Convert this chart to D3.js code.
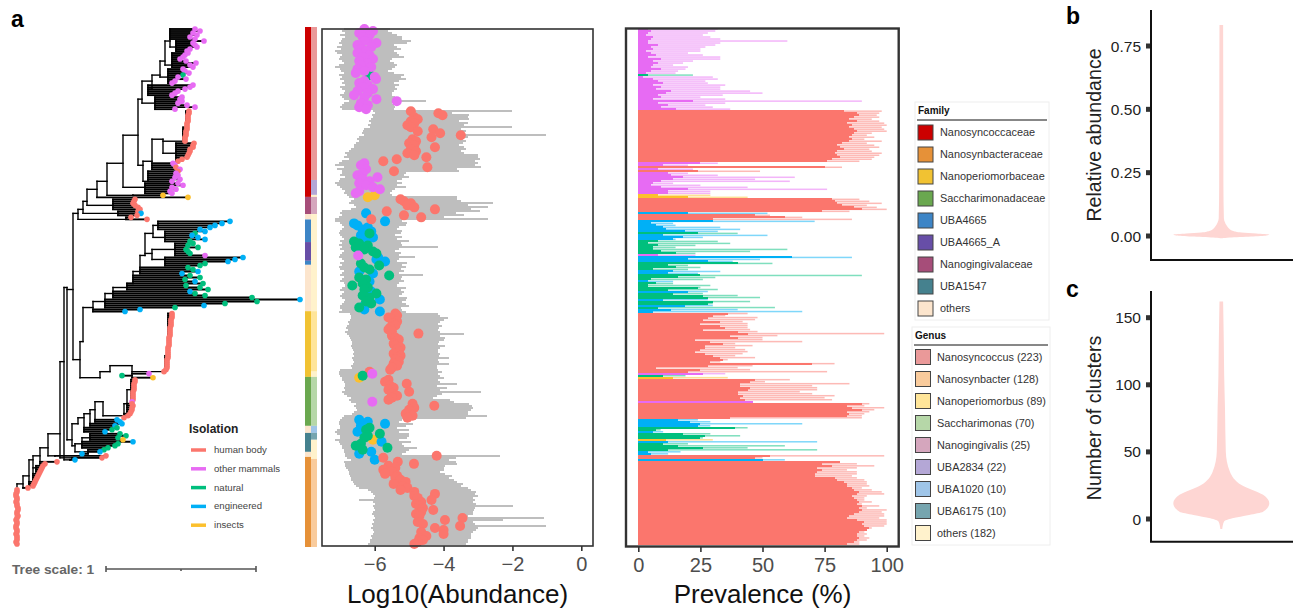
<!DOCTYPE html>
<html>
<head>
<meta charset="utf-8">
<script src="https://cdn.jsdelivr.net/npm/d3@7"></script>
<style>
  html, body { margin: 0; background: #fff; }
  svg { display: block; font-family: "Liberation Sans", Arial, sans-serif; }
</style>
</head>
<body>
<svg id="chart" width="1293" height="613"></svg>
<script>
// Isolation source per genome, as runs from top to bottom
const isolationRuns = [
  ['M',23],['N',1],['M',17],
  ['H',26],
  ['M',2],['H',1],['M',1],['H',1],['M',11],['I',1],
  ['I',1],
  ['H',7],['E',1],['H',3],
  ['E',6],['N',1],['E',3],['N',7],['M',1],['E',3],['N',4],['E',2],['N',1],
  ['N',2],['E',1],['N',4],['E',1],['N',3],['E',1],['N',2],['E',1],['N',1],['E',2],
  ['H',30],
  ['M',1],['N',1],['I',1],
  ['H',11],['M',1],
  ['H',8],
  ['E',4],['N',2],['E',1],['N',3],['I',1],['E',1],['N',4],['E',2],
  ['H',2],['E',1],
  ['H',42]
];
const isolationCodes = ['H','M','N','E','I'];
const isolationNames = ['human body','other mammals','natural','engineered','insects'];
const isolationColors = ['#fb766d','#e76bf3','#00bf7d','#00b0f6','#fcc02d'];

// Log10 abundance per genome: lowest, highest, median
const abundanceLow = [
  -6.9,-6.95,-6.85,-7.0,-6.85,-6.95,-6.98,-7.05,-6.95,-7.1,-6.98,-7.15,-7.1,-6.95,-7.0,-7.05,-6.95,-6.9,-7.05,-7.15,
  -7.0,-6.98,-6.9,-7.05,-6.95,-7.0,-6.9,-6.95,-6.85,-7.0,-6.95,-6.85,-6.9,-7.0,-6.95,-6.9,-6.75,-6.9,-6.95,-7.0,-6.95,
  -6.04,-6.0,-6.08,-6.04,-6.12,-6.18,-6.12,-6.2,-6.15,-6.3,-6.33,-6.37,-6.3,-6.45,-6.5,-6.45,-6.55,-6.6,-6.6,-6.7,-6.75,-6.85,-6.8,-6.9,-6.75,-6.95,
  -7.05,-7.15,-6.9,-7.1,-6.95,-6.95,-7.0,-6.85,-7.0,-7.05,-7.15,-7.1,-7.0,-6.95,-6.85,-6.9,-6.8,
  -6.75,
  -6.6,-6.7,-6.75,-6.6,-6.55,-6.7,-6.95,-7.0,-6.95,-7.05,-7.15,
  -7.15,-7.0,-6.95,-6.9,-6.95,-7.0,-7.05,-7.0,-6.95,-6.9,-7.0,-6.95,-7.05,-6.95,-7.0,-6.9,-6.95,-7.0,-7.05,-6.95,
  -6.9,-7.0,-6.95,-7.05,-7.0,-6.9,-6.95,-7.0,-6.9,-6.95,-7.0,-6.9,-6.85,-6.95,-7.0,-6.9,-6.95,-7.0,-6.95,-6.85,-6.9,-6.95,-7.0,-7.0,-6.95,-7.05,
  -6.72,-6.7,-6.68,-6.72,-6.78,-6.75,-6.8,-6.82,-6.78,-6.85,-6.8,-6.75,-6.72,-6.68,-6.67,-6.65,-6.7,-6.65,-6.62,-6.6,-6.63,-6.6,-6.65,-6.62,-6.6,-6.62,-6.68,-6.65,-7.0,-7.05,
  -7.05,-7.0,-6.95,
  -6.95,-6.9,-6.85,-6.85,-6.9,-6.85,-6.95,-6.9,-6.8,-6.7,-6.75,-6.7,
  -6.55,-6.6,-6.55,-6.5,-6.6,-6.65,-6.9,-6.95,
  -7.0,-7.05,-7.05,-7.0,-7.0,-7.1,-7.15,-7.1,-7.0,-7.0,-7.15,-7.05,-7.0,-6.95,-6.95,-6.9,-6.9,-6.85,
  -6.85,-6.8,-6.7,
  -6.88,-6.85,-6.85,-6.82,-6.78,-6.75,-6.75,-6.72,-6.68,-6.68,-6.62,-6.6,-6.55,-6.45,-6.2,-6.1,-6.05,-6.0,-6.02,-6.47,
  -6.05,-6.0,-6.05,-6.02,-6.0,-6.05,-6.08,-6.02,-6.0,-6.05,-6.02,-6.08,-6.05,-6.1,-6.05,-6.02,-6.05,-6.1,-6.08,-6.15,-6.15,-6.2
];
const abundanceHigh = [
  -5.55,-5.6,-5.5,-5.35,-5.2,-5.2,-4.95,-5.05,-5.45,-5.35,-5.25,-5.45,-5.35,-5.3,-5.15,-5.5,-5.55,-5.45,-5.35,-5.4,
  -5.5,-5.6,-5.45,-5.15,-5.25,-5.1,-5.3,-5.45,-5.3,-5.4,-5.35,-5.45,-5.5,-5.5,-5.4,-5.3,-4.5,-5.5,-5.45,-5.4,-5.45,
  -2.0,-3.75,-3.25,-3.3,-3.25,-3.55,-3.3,-3.4,-2.0,-3.5,-3.35,-3.55,-1.03,-3.3,-3.45,-3.35,-3.45,-3.55,-3.4,-3.35,-3.5,-3.4,-3.0,-3.0,-2.94,-3.1,
  -3.0,-3.1,-2.9,-3.6,-3.55,-5.1,-5.15,-5.0,-5.2,-5.35,-5.2,-5.35,-5.1,-5.4,-5.5,-5.55,-5.5,
  -3.6,
  -3.6,-3.5,-2.55,-3.3,-2.7,-3.2,-2.95,-3.65,-3.4,-4.0,-2.7,
  -5.2,-5.05,-5.1,-5.3,-5.35,-5.2,-5.25,-5.4,-5.2,-5.35,-5.0,-5.25,-5.2,-4.17,-5.3,-5.4,-5.25,-5.3,-4.83,-5.3,
  -5.35,-5.05,-5.2,-5.1,-5.25,-5.15,-5.3,-4.6,-5.2,-5.25,-5.15,-5.3,-5.35,-5.1,-5.25,-5.15,-5.2,-5.3,-5.05,-5.1,-5.2,-5.1,-5.0,-5.25,-5.2,-5.1,
  -4.15,-4.1,-3.88,-4.0,-4.1,-4.15,-4.05,-4.12,-4.15,-4.1,-3.4,-4.1,-3.95,-4.0,-4.12,-4.15,-3.95,-4.1,-4.15,-4.15,-4.1,-4.12,-3.85,-4.15,-4.12,-3.85,-4.2,-4.2,-4.15,-4.05,
  -4.15,-4.1,-4.0,
  -4.15,-4.1,-3.62,-4.2,-3.9,-4.1,-2.9,-4.05,-4.2,-4.3,-3.8,-3.7,
  -3.25,-3.18,-3.15,-3.2,-3.3,-3.3,-2.73,-3.35,
  -5.2,-5.3,-4.88,-5.1,-5.35,-5.0,-5.3,-5.0,-5.0,-5.05,-5.3,-4.95,-5.2,-5.15,-4.78,-5.0,-5.1,-5.2,
  -2.36,-3.65,-3.85,
  -3.65,-3.6,-3.95,-4.0,-3.98,-4.1,-3.95,-3.75,-3.85,-3.7,-3.6,-3.45,-3.5,-3.3,-3.2,-3.05,-3.1,-3.0,-3.15,-3.1,
  -3.15,-3.05,-1.97,-3.1,-3.12,-3.15,-3.15,-3.3,-1.07,-2.27,-3.15,-3.1,-1.03,-3.0,-3.05,-3.15,-3.2,-3.2,-3.2,-3.3,-3.3,-3.35
];
const abundanceMedian = [
  -6.3,-6.05,-6.45,-6.15,-6.35,-6.2,-6.3,-5.95,-6.5,-6.1,-6.4,-6.25,-6.5,-6.15,-6.35,-6.05,-6.45,-6.2,-6.4,-6.1,
  -6.5,-6.3,-6.55,-6.15,-6.0,-5.96,-6.3,-6.45,-6.2,-6.35,-6.05,-6.5,-6.2,-6.6,-6.3,-5.95,-5.36,-6.4,-6.2,-6.45,-6.25,
  -4.95,-4.15,-4.03,-4.85,-4.75,-4.95,-4.85,-5.05,-4.95,-4.3,-4.75,-4.1,-3.5,-4.35,-4.9,-4.8,-5.0,-4.85,-4.25,-4.95,-4.8,-5.05,-4.85,-4.5,-5.36,-5.75,
  -6.3,-6.4,-4.47,-6.25,-5.44,-6.35,-6.5,-5.92,-6.35,-6.15,-6.45,-6.25,-6.05,-5.85,-6.45,-6.55,-6.0,
  -6.2,
  -5.25,-5.15,-4.95,-5.05,-4.85,-4.25,-5.65,-6.25,-5.15,-4.65,-6.1,
  -5.7,-6.6,-6.5,-6.2,-6.35,-6.1,-6.15,-6.4,-6.05,-6.25,-6.6,-6.45,-6.2,-6.55,-6.3,-6.05,-5.95,-6.48,-5.9,-5.95,
  -5.7,-6.4,-5.87,-6.3,-6.15,-6.45,-6.05,-5.58,-6.45,-6.25,-6.15,-6.35,-6.65,-6.2,-6.3,-6.1,-5.95,-6.35,-6.15,-5.85,-6.25,-6.1,-6.3,-6.45,-6.3,-5.85,
  -5.4,-5.35,-5.6,-5.5,-5.35,-5.45,-5.4,-5.55,-5.6,-5.5,-4.73,-5.5,-5.4,-5.3,-5.35,-5.45,-5.4,-5.25,-5.35,-5.3,-5.45,-5.25,-5.35,-5.4,-5.3,-5.45,-5.35,-5.5,-5.55,-6.15,
  -6.07,-6.35,-6.45,
  -5.6,-5.7,-5.07,-5.55,-5.45,-5.6,-5.0,-5.5,-5.35,-5.5,-5.6,-6.07,
  -4.9,-4.27,-4.85,-5.0,-4.95,-5.1,-4.9,-5.05,
  -6.45,-6.2,-5.7,-6.4,-6.15,-6.25,-6.5,-5.85,-6.2,-6.3,-6.05,-5.8,-6.4,-6.55,-5.63,-6.35,-6.1,-6.45,
  -4.2,-5.75,-6.0,
  -5.33,-4.86,-5.6,-5.4,-5.75,-5.5,-5.7,-5.35,-5.4,-5.25,-5.1,-5.45,-5.2,-5.05,-5.25,-4.85,-4.25,-4.85,-4.75,-4.35,
  -4.65,-4.8,-4.7,-4.6,-4.3,-4.65,-4.8,-4.7,-3.45,-3.96,-4.75,-4.6,-3.52,-4.25,-4.0,-4.65,-4.0,-4.5,-4.7,-4.6,-4.75,-4.85
];

// Prevalence (%) per genome: solid part and pale part
const prevalenceInner = [
  4,5,4,3,6,5,4,4,8,5,6,3,5,7,4,9,6,8,6,5,9,5,3,4,2,6,8,10,6,9,7,13,11,8,9,6,22,8,12,9,15,
  83,88,89,87,85,88,84,86,85,87,88,87,86,85,86,85,82,80,81,83,80,79,80,81,78,76,
  25,10,75,8,24,12,13,18,14,9,6,5,9,20,12,12,8,
  20,
  78,79,80,82,87,90,74,20,47,59,30,
  30,5,7,10,11,19,24,10,18,14,8,4,8,6,6,9,15,8,62,20,28,40,12,15,6,14,12,25,16,5,4,7,4,24,12,20,14,26,28,10,30,28,19,8,13,6,
  36,30,28,26,33,25,33,35,26,40,44,37,40,23,29,34,27,27,25,23,27,30,33,34,29,70,28,7,25,20,
  26,10,14,
  47,45,41,41,45,44,40,40,42,41,43,46,
  90,84,86,90,84,85,84,37,
  16,21,25,24,39,7,6,18,27,25,11,12,10,16,26,12,4,5,
  53,47,50,
  81,74,78,72,74,72,71,71,79,80,83,84,84,86,87,89,88,86,87,88,89,88,90,89,90,89,87,85,84,88,91,90,91,93,92,89,88,88,89,88,87,84
];
const prevalenceOuter = [
  32,31,28,26,29,33,60,33,31,27,25,25,20,26,33,33,22,18,14,20,19,16,15,22,30,32,27,28,35,33,33,45,50,34,25,35,90,35,27,30,37,
  98,97,96,97,94,97,99,100,98,99,100,94,92,95,91,98,92,95,97,93,94,98,97,95,94,89,
  32,20,82,22,49,20,32,63,47,61,14,25,44,76,29,29,29,
  44,
  89,93,98,92,96,100,85,52,53,66,86,
  71,14,15,33,41,32,40,52,26,15,32,37,23,15,60,45,23,23,86,49,38,54,20,25,20,33,24,90,31,26,14,14,29,25,32,28,26,40,49,28,45,30,30,55,40,66,
  44,35,48,47,42,44,44,44,45,48,99,56,50,50,66,39,46,39,43,44,42,39,47,36,33,79,46,40,45,76,
  35,19,36,
  61,51,85,70,72,72,65,70,79,75,78,46,
  93,91,99,95,93,91,90,90,
  24,29,66,29,44,9,10,29,41,26,30,72,20,59,44,72,17,12,
  99,50,59,
  81,88,95,88,84,88,88,86,88,91,92,92,93,90,94,98,99,92,91,91,94,90,97,92,100,98,99,99,97,100,100,100,99,94,92,91,92,91,93,92,89,89
];

// Tree: root-to-tip distance per genome (150 units = tree scale 1)
const tipDepth = [
  195,200,193,197,190,195,204,193,195,197,190,187,188,185,183,180,186,196,190,193,183,185,189,183,178,186,175,172,193,190,185,178,175,172,182,180,182,178,187,195,175,
  189,189,188,188,188,188,187,187,187,187,186,186,186,185,185,185,194,193,193,190,190,189,188,187,182,178,
  173,175,176,180,178,176,178,175,180,172,178,183,172,176,170,172,163,
  188,
  135,134,133,135,138,140,138,141,137,131,147,
  230,222,215,210,200,205,195,192,198,205,190,193,188,198,186,188,190,205,243,235,228,205,200,188,193,198,182,190,200,185,195,203,186,200,208,190,195,205,252,300,257,225,204,175,140,125,
  172,172,172,171,171,171,171,170,170,170,170,170,169,169,169,169,169,168,168,168,168,168,168,167,167,167,167,167,166,164,
  149,122,153,
  135,135,134,134,134,134,133,133,133,133,133,132,
  132,133,132,132,131,130,128,124,
  117,120,122,115,117,112,105,120,126,118,123,133,118,115,108,104,100,82,
  106,102,75,
  57,45,43,42,41,40,39,38,37,36,35,34,33,28,
  17,17,16,16,17,17,16,17,17,18,18,17,17,18,17,16,17,17,16,16,17,17,16,17,17,17,16,17
];

// Internal nodes: depth, row of the stem, tip rows hanging from it, child clades
const c = (d, stem, fan, kids) => ({ d, stem, fan, kids });
const cladeTop = c(142,35,[],[
  c(152,26,[],[
    c(160,23,[],[
      c(165,16,[],[
        c(170,6,[0,5],[c(176,9,[6,11],[])]),
        c(172,18,[12,19],[])
      ]),
      c(168,24,[20,27],[])
    ]),
    c(148,30,[28,33],[])
  ]),
  c(155,37,[34,40],[])
]);
const cladeC = c(143,68,[],[
  c(152,66,[67,70],[
    c(163,55,[],[
      c(183,56,[50,56],[c(186,49,[41,49],[])]),
      c(176,62,[57,66],[])
    ])
  ]),
  c(148,76,[71,76],[])
]);
const cladeUpper = c(78,92,[],[
  c(83,90,[],[
    c(87,86,[],[
      c(97,80,[84,84],[
        c(107,76,[],[
          c(123,67,[],[
            c(138,53,[],[cladeTop, cladeC]),
            c(145,79,[77,82],[])
          ]),
          c(133,83,[83,83],[])
        ])
      ]),
      c(113,88,[85,90],[])
    ]),
    c(118,92,[91,93],[])
  ]),
  c(126,95,[94,95],[])
]);
const cladeF = c(93,139,[140,141],[
  c(105,136,[135,139],[
    c(113,132,[131,134],[
      c(127,129,[127,130],[
        c(133,127,[123,126],[
          c(140,121,[119,122],[
            c(145,113,[],[
              c(153,102,[],[c(158,98,[96,100],[]), c(165,104,[101,106],[])]),
              c(152,112,[],[c(175,110,[107,113],[]), c(165,115,[114,118],[])])
            ])
          ])
        ])
      ])
    ])
  ])
]);
const cladeG = c(100,174,[],[
  c(110,171,[],[
    c(132,168,[172,174],[
      c(165,171,[164,171],[c(168,163,[142,163],[])])
    ])
  ])
]);
const cladeK = c(72,205,[],[
  c(78,197,[],[
    c(84,194,[199,201],[
      c(90,192,[197,198],[
        c(95,190,[195,196],[
          c(103,186,[],[
            c(124,193,[192,194],[c(127,187,[187,191],[c(131,180,[175,186],[])])])
          ])
        ])
      ])
    ])
  ]),
  c(75,208,[],[
    c(82,207,[206,209],[c(90,204,[202,205],[])]),
    c(88,211,[210,212],[])
  ])
]);
const treeRoot = c(17,227,[230,257],[
  c(23,227,[229,229],[
    c(29,223,[226,228],[
      c(33,215,[222,225],[
        c(36,219,[218,221],[]),
        c(40,213,[216,217],[
          c(48,209,[],[
            c(60,202,[],[
              c(64,166,[],[
                c(67,129,[],[
                  c(73,130,[],[
                    cladeUpper,
                    c(80,165,[],[c(83,156,[],[cladeF]), cladeG])
                  ]),
                  cladeK
                ]),
                c(70,215,[215,215],[])
              ]),
              c(72,214,[214,214],[])
            ]),
            c(55,213,[213,213],[])
          ])
        ])
      ])
    ])
  ])
]);
const treeScaleUnits = 150;

// Annotation strips (row where each block ends)
const familyNames = ['Nanosyncoccaceae','Nanosynbacteraceae','Nanoperiomorbaceae','Saccharimonadaceae','UBA4665','UBA4665_A','Nanogingivalaceae','UBA1547','others'];
const familyColors = ['#cc0000','#e69138','#f1c232','#6aa84f','#3d85c6','#674ea7','#a64d79','#45818e','#fce5cd'];
const familyStrip = ['Nanosyncoccaceae','Nanogingivalaceae','others','UBA4665','UBA4665_A','UBA4665','others','Nanoperiomorbaceae','Saccharimonadaceae','others','UBA1547','others','Nanosynbacteraceae'];
const familyStripEnd = [84.3,92.8,95.5,106.7,116,118,141,173.6,197.9,201.4,210.8,213.3,258];

const genusNames = ['Nanosyncoccus','Nanosynbacter','Nanoperiomorbus','Saccharimonas','Nanogingivalis','UBA2834','UBA1020','UBA6175','others'];
const genusCounts = [223,128,89,70,25,22,10,10,182];
const genusColors = ['#ea9999','#f9cb9c','#ffe599','#b6d7a8','#d5a6bd','#b4a7d6','#9fc5e8','#76a5af','#fff2cc'];
const genusStrip = ['Nanosyncoccus','UBA2834','others','Nanogingivalis','others','Nanoperiomorbus','others','Saccharimonas','UBA1020','UBA6175','others','Nanosynbacter'];
const genusStripEnd = [75.9,83.3,84.3,92.8,141,171,173.6,197.9,201.4,204.8,214.3,258];

// Violins: value levels and relative density at each level
const abundanceLevels = [-0.009,-0.006,-0.002,0.002,0.006,0.01,0.014,0.02,0.028,0.04,0.055,0.07,0.2,0.5,0.833];
const abundanceDensity = [0.02,0.17,0.62,0.94,1,0.73,0.42,0.25,0.17,0.115,0.073,0.054,0.044,0.042,0.038];
const clusterLevels = [-7.5,-2,0.5,3,5.4,11.8,18,25.4,35.3,50.2,82.5,107,132,162];
const clusterDensity = [0.02,0.055,0.23,0.58,0.87,1,0.87,0.42,0.18,0.094,0.077,0.06,0.052,0.038];

const svg = d3.select('#chart');
const nRows = tipDepth.length;
const isolation = isolationRuns.flatMap(([k, n]) => d3.range(n).map(() => k));
const isoColor = d3.scaleOrdinal().domain(isolationCodes).range(isolationColors);
const rows = d3.range(nRows).map(i => ({
  i, iso: isolation[i], low: abundanceLow[i], high: abundanceHigh[i], med: abundanceMedian[i],
  inner: prevalenceInner[i], outer: prevalenceOuter[i], tip: tipDepth[i]
}));

const rowY = d3.scaleBand().domain(d3.range(nRows)).range([28, 545]);
const rowMid = r => 28 + (r + 0.5) * rowY.step();

// ---- tree ----
const treeX = d3.scaleLinear().domain([0, 300]).range([0, 300]);
const treeG = svg.append('g').attr('stroke', '#000').attr('fill', 'none');
const tree = d3.hierarchy(treeRoot, n => n.kids);
const segs = [];
tree.each(node => {
  const n = node.data;
  const ys = n.kids.map(k => k.stem);
  if (n.fan.length) {
    d3.range(n.fan[0], n.fan[1] + 1).forEach(r => {
      segs.push([n.d, tipDepth[r], r, r, 1.9]);
      ys.push(r);
    });
  }
  ys.push(n.stem);
  segs.push([n.d, n.d, d3.min(ys), d3.max(ys), 1.4]);
  if (node.parent) segs.push([node.parent.data.d, n.d, n.stem, n.stem, 1.4]);
});
treeG.selectAll('line').data(segs).join('line')
  .attr('x1', s => treeX(s[0])).attr('x2', s => treeX(s[1]))
  .attr('y1', s => rowMid(s[2])).attr('y2', s => rowMid(s[3]))
  .attr('stroke-width', s => s[4])
  .attr('stroke-linecap', 'square');
svg.append('g').selectAll('circle').data(rows).join('circle')
  .attr('cx', d => treeX(d.tip)).attr('cy', d => rowMid(d.i)).attr('r', 2.8)
  .attr('fill', d => isoColor(d.iso));

// tree legend
svg.append('text').attr('x', 189).attr('y', 433).attr('font-size', 12).attr('font-weight', 'bold').attr('fill', '#222').text('Isolation');
const isoLegend = svg.append('g').selectAll('g').data(isolationNames).join('g')
  .attr('transform', (d, i) => `translate(0,${450 + i * 18.8})`);
isoLegend.append('line').attr('x1', 191).attr('x2', 206).attr('stroke-width', 3.5)
  .attr('stroke', (d, i) => isolationColors[i]);
isoLegend.append('text').attr('x', 214).attr('y', 3).attr('font-size', 9.6).attr('fill', '#444').text(d => d);

// tree scale
svg.append('text').attr('x', 12).attr('y', 574).attr('font-size', 13.7).attr('font-weight', 'bold').attr('fill', '#666').text('Tree scale: 1');
const scaleX = d3.scaleLinear().domain([0, 1]).range([106, 106 + treeX(treeScaleUnits) - treeX(0)]);
const scaleBar = svg.append('g').attr('stroke', '#555').attr('stroke-width', 1.6);
scaleBar.append('line').attr('x1', scaleX(0)).attr('x2', scaleX(1)).attr('y1', 569).attr('y2', 569);
scaleBar.selectAll('.cap').data([0, 1]).join('line').attr('class', 'cap')
  .attr('x1', scaleX).attr('x2', scaleX).attr('y1', 566).attr('y2', 572);
scaleBar.append('line').attr('x1', scaleX(0.5)).attr('x2', scaleX(0.5)).attr('y1', 569).attr('y2', 571);

// ---- annotation strips ----
const stripY = d3.scaleLinear().domain([0, 258]).range([27, 547]);
function drawStrip(names, ends, lookupNames, lookupColors, x0, x1) {
  svg.append('g').selectAll('rect').data(names).join('rect')
    .attr('x', x0).attr('width', x1 - x0)
    .attr('y', (d, i) => stripY(i ? ends[i - 1] : 0))
    .attr('height', (d, i) => stripY(ends[i]) - stripY(i ? ends[i - 1] : 0))
    .attr('fill', d => lookupColors[lookupNames.indexOf(d)]);
}
drawStrip(familyStrip, familyStripEnd, familyNames, familyColors, 305, 311);
drawStrip(genusStrip, genusStripEnd, genusNames, genusColors, 311, 317);

// ---- abundance panel ----
const abX = d3.scaleLinear().domain([-6, 0]).range([374.7, 581.3]);
const abG = svg.append('g');
abG.selectAll('rect').data(rows).join('rect')
  .attr('x', d => abX(d.low)).attr('width', d => abX(d.high) - abX(d.low))
  .attr('y', d => rowY(d.i)).attr('height', rowY.bandwidth())
  .attr('shape-rendering', 'crispEdges')
  .attr('fill', '#bebebe');
const drawOrder = ['I','E','H','N','M'];
abG.selectAll('circle').data(rows.slice().sort((a, b) => drawOrder.indexOf(a.iso) - drawOrder.indexOf(b.iso))).join('circle')
  .attr('cx', d => abX(d.med)).attr('cy', d => rowMid(d.i)).attr('r', 5)
  .attr('fill', d => isoColor(d.iso));
svg.append('rect').attr('x', 322).attr('y', 29).attr('width', 271).attr('height', 517)
  .attr('fill', 'none').attr('stroke', '#333').attr('stroke-width', 1.6);
const abAxis = svg.append('g').attr('transform', 'translate(0,546)')
  .call(d3.axisBottom(abX).tickValues([-6, -4, -2, 0]).tickFormat(d3.format('d')).tickSize(5).tickPadding(6));
abAxis.select('.domain').remove();
abAxis.selectAll('line').attr('stroke', '#333').attr('stroke-width', 1.6);
abAxis.selectAll('text').attr('font-size', 20).attr('fill', '#4d4d4d').attr('font-family', 'inherit');
svg.append('text').attr('x', 457.5).attr('y', 603).attr('text-anchor', 'middle').attr('font-size', 26).attr('fill', '#111').text('Log10(Abundance)');

// ---- prevalence panel ----
const prevX = d3.scaleLinear().domain([0, 100]).range([638.3, 886.7]);
const prevG = svg.append('g');
prevG.selectAll('.outer').data(rows).join('rect').attr('class', 'outer')
  .attr('x', prevX(0)).attr('width', d => prevX(d.outer) - prevX(0))
  .attr('y', d => rowY(d.i) + 0.25).attr('height', 1.5)
  .attr('fill', d => isoColor(d.iso)).attr('opacity', 0.5);
prevG.selectAll('.inner').data(rows).join('rect').attr('class', 'inner')
  .attr('x', prevX(0)).attr('width', d => prevX(d.inner) - prevX(0))
  .attr('y', d => rowY(d.i)).attr('height', rowY.bandwidth())
  .attr('shape-rendering', 'crispEdges')
  .attr('fill', d => isoColor(d.iso));
svg.append('rect').attr('x', 626).attr('y', 28.5).attr('width', 272.7).attr('height', 518)
  .attr('fill', 'none').attr('stroke', '#333').attr('stroke-width', 2.4);
const prevAxis = svg.append('g').attr('transform', 'translate(0,547)')
  .call(d3.axisBottom(prevX).tickValues([0, 25, 50, 75, 100]).tickSize(5).tickPadding(6));
prevAxis.select('.domain').remove();
prevAxis.selectAll('line').attr('stroke', '#333').attr('stroke-width', 1.6);
prevAxis.selectAll('text').attr('font-size', 20).attr('fill', '#4d4d4d').attr('font-family', 'inherit');
svg.append('text').attr('x', 762.5).attr('y', 603).attr('text-anchor', 'middle').attr('font-size', 26).attr('fill', '#111').text('Prevalence (%)');

// ---- legends ----
function drawLegend(x, y, w, h, title, labels, colors, swatchX, textX, firstY) {
  const g = svg.append('g');
  g.append('rect').attr('x', x).attr('y', y).attr('width', w).attr('height', h).attr('fill', '#fff').attr('stroke', '#eee');
  g.append('text').attr('x', x + 3).attr('y', y + 12).attr('font-size', 10).attr('font-weight', 'bold').attr('fill', '#111').text(title);
  g.append('line').attr('x1', x + 2).attr('x2', x + w - 2).attr('y1', y + 18).attr('y2', y + 18).attr('stroke', '#111');
  const item = g.selectAll('.item').data(labels).join('g').attr('class', 'item')
    .attr('transform', (d, i) => `translate(0,${firstY + i * 22})`);
  item.append('rect').attr('x', swatchX).attr('y', -7.5).attr('width', 15).attr('height', 15)
    .attr('fill', (d, i) => colors[i]).attr('stroke', '#444').attr('stroke-width', 1);
  item.append('text').attr('x', textX).attr('y', 3.6).attr('font-size', 10.9).attr('fill', '#333').text(d => d);
}
drawLegend(915, 102, 134, 218, 'Family', familyNames, familyColors, 918, 940, 132.5);
drawLegend(912, 327, 138, 218, 'Genus', genusNames.map((g, i) => `${g} (${genusCounts[i]})`), genusColors, 915.5, 937, 357);

// ---- violins ----
function drawViolin(top, bottom, tickVals, tickFmt, y0Val, y0Pix, y1Val, y1Pix, levels, density, label, labelY) {
  const y = d3.scaleLinear().domain([y0Val, y1Val]).range([y0Pix, y1Pix]);
  const w = d3.scaleLinear().domain([-1, 1]).range([1221.3 - 48, 1221.3 + 48]);
  const area = d3.area().curve(d3.curveMonotoneY)
    .y(d => y(d[0])).x0(d => w(-d[1])).x1(d => w(d[1]));
  svg.append('path').datum(levels.map((v, i) => [v, density[i]])).attr('d', area).attr('fill', '#fed6d3');
  svg.append('path').attr('d', `M1151,${top}V${bottom}H1293`).attr('fill', 'none').attr('stroke', '#111').attr('stroke-width', 2);
  const ticks = svg.append('g').selectAll('g').data(tickVals).join('g')
    .attr('transform', d => `translate(0,${y(d)})`);
  ticks.append('rect').attr('x', 1146).attr('y', -2.5).attr('width', 4).attr('height', 5).attr('fill', '#333');
  ticks.append('text').attr('x', 1141).attr('y', 5.5).attr('text-anchor', 'end').attr('font-size', 15.5).attr('fill', '#222').text(tickFmt);
  svg.append('text').attr('transform', `translate(1101,${labelY}) rotate(-90)`).attr('text-anchor', 'middle')
    .attr('font-size', 19.6).attr('fill', '#222').text(label);
}
drawViolin(10, 260, [0, 0.25, 0.5, 0.75], d3.format('.2f'), 0, 236, 0.75, 46, abundanceLevels, abundanceDensity, 'Relative abundance', 135);
drawViolin(291, 541.7, [0, 50, 100, 150], d3.format('d'), 0, 519, 150, 317.7, clusterLevels, clusterDensity, 'Number of clusters', 418);

// panel letters
const panelLetters = [['a', 11, 27], ['b', 1066, 24], ['c', 1066, 297]];
svg.append('g').selectAll('text').data(panelLetters).join('text')
  .attr('x', d => d[1]).attr('y', d => d[2]).attr('font-size', 23).attr('font-weight', 'bold').attr('fill', '#000').text(d => d[0]);
</script>
</body>
</html>
